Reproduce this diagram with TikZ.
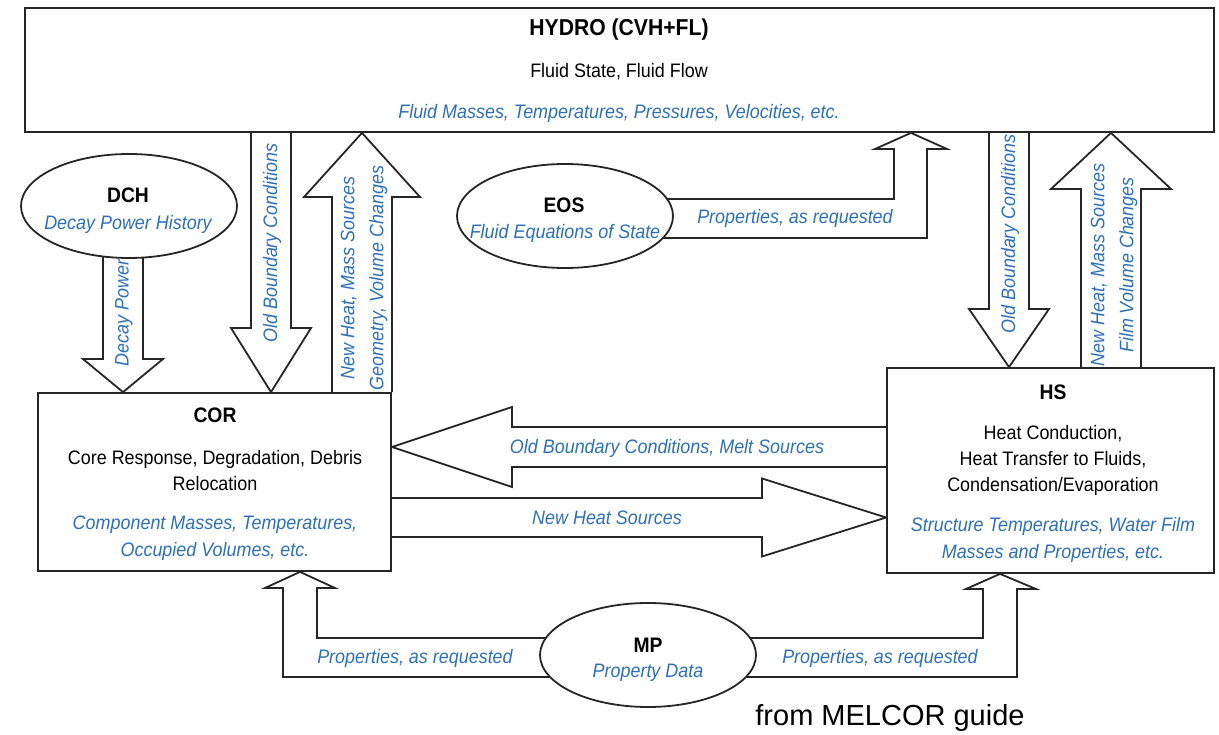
\documentclass[tikz,border=0pt]{standalone}
\usepackage{fontspec}
\setmainfont[FakeStretch=0.92]{Liberation Sans}
\newfontfamily\notefont{Liberation Sans}
\usetikzlibrary{shapes.geometric,backgrounds}
\definecolor{ink}{RGB}{38,38,38}
\definecolor{lbl}{RGB}{46,112,182}

% vertical block arrow: centre x, tail anchor, head-base y, tip anchor, shaft half-width, head half-width
\newcommand\vblock[6]{%
  \draw[barrow] (#1-#5,0 |- #2) -- (#1-#5,#3) -- (#1-#6,#3) -- (#1,0 |- #4)
    -- (#1+#6,#3) -- (#1+#5,#3) -- (#1+#5,0 |- #2);}
% horizontal block arrow: centre y, tail anchor, head-base x, tip anchor, shaft half-width, head half-width
\newcommand\hblock[6]{%
  \draw[barrow] (0,#1-#5 -| #2) -- (#3,#1-#5) -- (#3,#1-#6) -- (0,#1 -| #4)
    -- (#3,#1+#6) -- (#3,#1+#5) -- (0,#1+#5 -| #2);}

\begin{document}
\begin{tikzpicture}[x=1pt,y=-1pt,
  sysbox/.style={draw=ink,line width=1.8pt,fill=white,rectangle,inner sep=0pt},
  sysell/.style={draw=ink,line width=1.8pt,fill=white,ellipse,inner sep=0pt,
                 minimum width=216pt,minimum height=104pt},
  barrow/.style={draw=ink,line width=1.8pt},
  ttl/.style={inner sep=0pt,font=\fontsize{21}{25}\selectfont\bfseries},
  bodytxt/.style={inner sep=0pt,align=center,font=\fontsize{19.5}{26}\selectfont},
  vars/.style={inner sep=0pt,align=center,text=lbl,font=\fontsize{19.5}{27}\selectfont\itshape},
  twoline/.style={font=\fontsize{19.5}{29}\selectfont\itshape},
]
\useasboundingbox (0,0) rectangle (1219,735);

% modules
\node[sysbox,minimum width=1189pt,minimum height=124pt] (hydro) at (619.5,70) {};
\node[sysbox,minimum width=353pt,minimum height=178pt] (cor) at (214.5,482) {};
\node[sysbox,minimum width=327pt,minimum height=205pt] (hs) at (1050.5,470.5) {};
\node[sysell] (dch) at (129,206) {};
\node[sysell] (eos) at (565,216) {};
\node[sysell] (mp) at (648,655) {};

% module texts
\node[ttl,font=\fontsize{23}{25}\selectfont\bfseries] (hydro-t) at (619,30) {HYDRO (CVH+FL)};
\node[bodytxt] (hydro-b) at (619,72) {Fluid State, Fluid Flow};
\node[vars] (hydro-v) at (619,113) {Fluid Masses, Temperatures, Pressures, Velocities, etc.};

\node[ttl] (cor-t) at (215,415) {COR};
\node[bodytxt] (cor-b) at (215,471) {Core Response, Degradation, Debris\\Relocation};
\node[vars] (cor-v) at (215,538) {Component Masses, Temperatures,\\Occupied Volumes, etc.};

\node[ttl] (hs-t) at (1053,392) {HS};
\node[bodytxt] (hs-b) at (1053,460.5) {Heat Conduction,\\Heat Transfer to Fluids,\\Condensation/Evaporation};
\node[vars] (hs-v) at (1053,540) {Structure Temperatures, Water Film\\Masses and Properties, etc.};

\node[ttl] (dch-t) at (128,195) {DCH};
\node[vars] (dch-v) at (128,224) {Decay Power History};
\node[ttl] (eos-t) at (564,205) {EOS};
\node[vars] (eos-v) at (565,233) {Fluid Equations of State};
\node[ttl] (mp-t) at (648,645) {MP};
\node[vars] (mp-v) at (648,673) {Property Data};

% data flows
\begin{pgfonlayer}{background}
  \vblock{123}{dch.center}{359}{cor.north}{20}{40}
  \vblock{271}{hydro.south}{328}{cor.north}{20}{40}
  \vblock{362}{cor.north}{197}{hydro.south}{30}{58}
  \vblock{1009}{hydro.south}{309}{hs.north}{20}{40}
  \vblock{1111}{hs.north}{189}{hydro.south}{30}{60}
  \hblock{447}{hs.west}{512}{cor.east}{20}{40}
  \hblock{517.5}{cor.east}{762}{hs.west}{19.5}{39}
  % EOS -> HYDRO
  \draw[barrow] (eos.center |- 0,199) -- (894,199) -- (894,149) -- (875,149)
    -- (911,0 |- hydro.south) -- (947,149) -- (927,149) -- (927,238) -- (eos.center |- 0,238);
  % MP -> COR
  \draw[barrow] (mp.center |- 0,638) -- (317,638) -- (317,588) -- (335,588)
    -- (300,0 |- cor.south) -- (265,588) -- (283,588) -- (283,677) -- (mp.center |- 0,677);
  % MP -> HS
  \draw[barrow] (mp.center |- 0,638) -- (983,638) -- (983,589) -- (966,589)
    -- (1000,0 |- hs.south) -- (1036,589) -- (1017,589) -- (1017,677) -- (mp.center |- 0,677);
\end{pgfonlayer}

% flow labels
\node[vars,rotate=90] (l-decay) at (124,313) {Decay Power};
\node[vars,rotate=90] (l-corold) at (272,243) {Old Boundary Conditions};
\node[vars,twoline,rotate=90] (l-cornew) at (364,278) {New Heat, Mass Sources\\Geometry, Volume Changes};
\node[vars,rotate=90] (l-hsold) at (1010,234) {Old Boundary Conditions};
\node[vars,twoline,rotate=90] (l-hsnew) at (1114,265) {New Heat, Mass Sources\\Film Volume Changes};
\node[vars] (l-eos) at (795,218) {Properties, as requested};
\node[vars] (l-melt) at (667,448) {Old Boundary Conditions, Melt Sources};
\node[vars] (l-heat) at (607,518) {New Heat Sources};
\node[vars] (l-mpcor) at (415,658) {Properties, as requested};
\node[vars] (l-mphs) at (880,658) {Properties, as requested};

\node[inner sep=0pt,font=\notefont\fontsize{29}{32}\selectfont] (note) at (890,718) {from MELCOR guide};
\end{tikzpicture}
\end{document}
